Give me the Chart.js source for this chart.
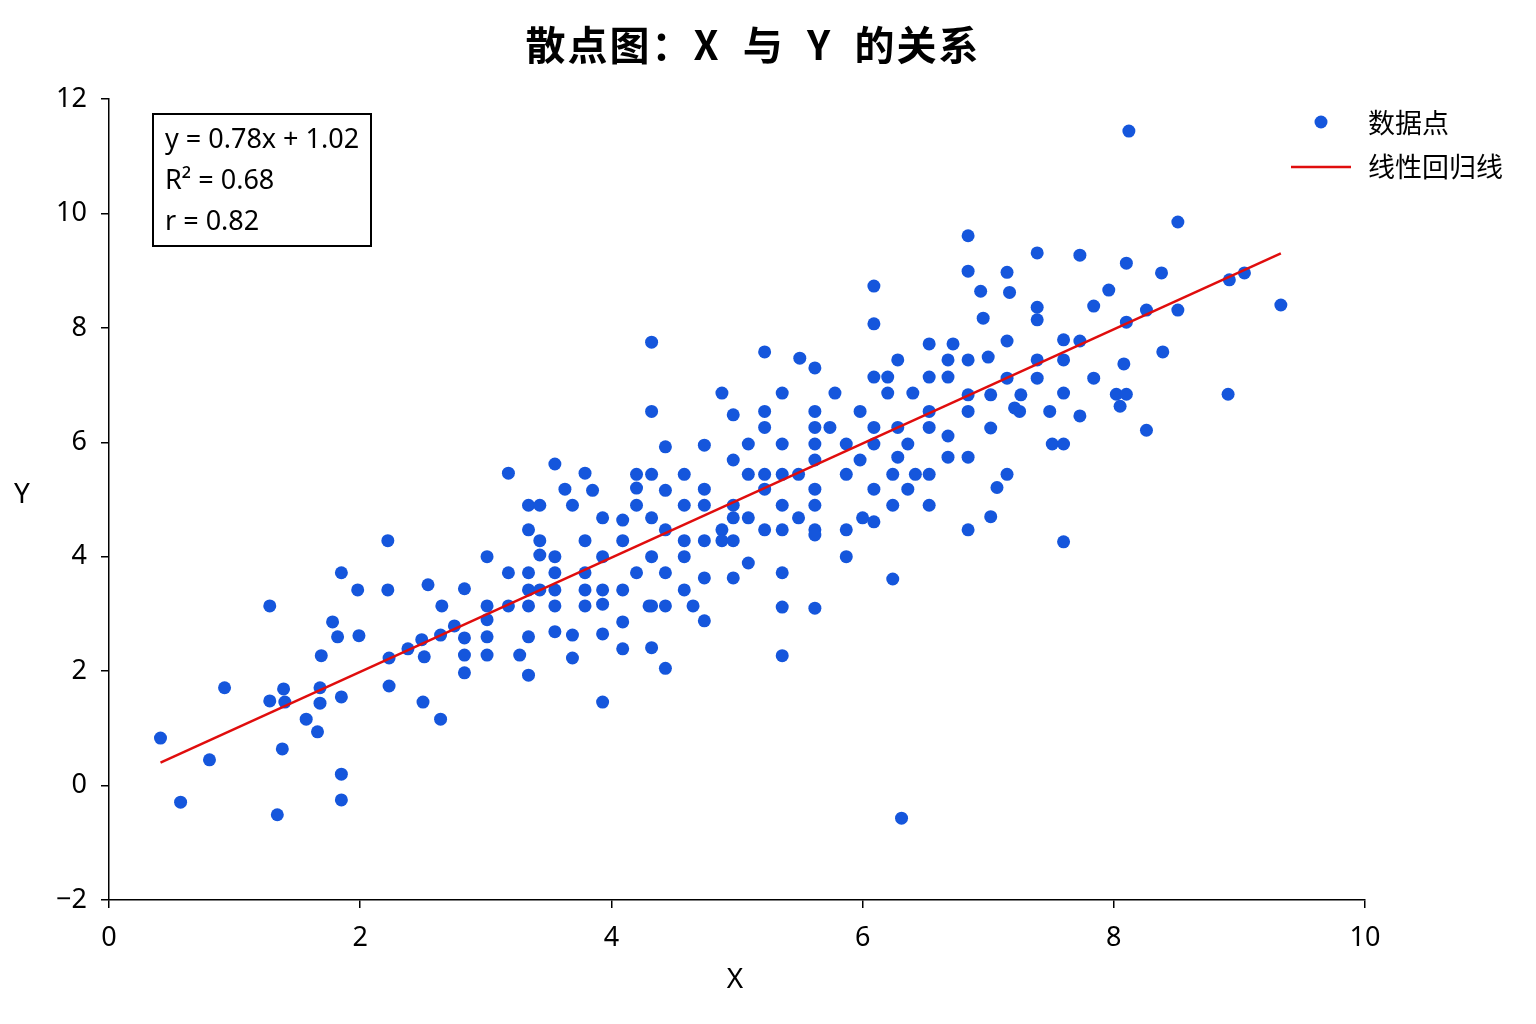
<!DOCTYPE html>
<html lang="zh">

<head>
    <meta charset="UTF-8">
    <title>散点图：X 与 Y 的关系</title>
    <script src="https://cdn.jsdelivr.net/npm/chart.js"></script>
    <style>
        body {
            margin: 0;
            background: #ffffff;
        }

        canvas {
            display: block;
        }
    </style>
</head>

<body>
    <canvas id="scatterChart" width="1536" height="1024"></canvas>

    <script>
        // 数据点
        const xValues = [
            0.41, 0.57, 0.80, 0.92, 1.28, 1.28, 1.39, 1.38, 1.34, 1.40, 1.57, 1.66, 1.68, 1.68, 1.69, 1.78, 1.82, 1.85, 1.85, 1.85,
            1.85, 1.98, 1.99, 2.22, 2.22, 2.23, 2.23, 2.38, 2.49, 2.51, 2.50, 2.54, 2.64, 2.65, 2.64, 2.75, 2.83, 2.83, 2.83, 2.83,
            3.01, 3.01, 3.01, 3.01, 3.01, 3.18, 3.18, 3.18, 3.27, 3.34, 3.34, 3.34, 3.34, 3.34, 3.34, 3.34, 3.43, 3.43, 3.43, 3.43,
            3.55, 3.55, 3.55, 3.55, 3.55, 3.55, 3.63, 3.69, 3.69, 3.69, 3.79, 3.79, 3.79, 3.79, 3.79, 3.85, 3.93, 3.93, 3.93, 3.93,
            3.93, 3.93, 4.09, 4.09, 4.09, 4.09, 4.09, 4.20, 4.20, 4.20, 4.20, 4.30, 4.32, 4.32, 4.32, 4.32, 4.32, 4.32, 4.32, 4.43,
            4.43, 4.43, 4.43, 4.43, 4.43, 4.58, 4.58, 4.58, 4.58, 4.58, 4.65, 4.74, 4.74, 4.74, 4.74, 4.74, 4.74, 4.88, 4.88, 4.88,
            4.97, 4.97, 4.97, 4.97, 4.97, 4.97, 5.09, 5.09, 5.09, 5.09, 5.22, 5.22, 5.22, 5.22, 5.22, 5.22, 5.36, 5.36, 5.36, 5.36,
            5.36, 5.36, 5.36, 5.36, 5.49, 5.49, 5.50, 5.62, 5.62, 5.62, 5.62, 5.62, 5.62, 5.62, 5.62, 5.62, 5.62, 5.74, 5.78, 5.87,
            5.87, 5.87, 5.87, 5.98, 5.98, 6.00, 6.09, 6.09, 6.09, 6.09, 6.09, 6.09, 6.09, 6.20, 6.20, 6.24, 6.24, 6.24, 6.28, 6.28,
            6.28, 6.31, 6.36, 6.36, 6.40, 6.42, 6.53, 6.53, 6.53, 6.53, 6.53, 6.53, 6.68, 6.68, 6.68, 6.68, 6.72, 6.84, 6.84, 6.84,
            6.84, 6.84, 6.84, 6.84, 6.94, 6.96, 7.00, 7.02, 7.02, 7.02, 7.07, 7.15, 7.17, 7.15, 7.15, 7.15, 7.21, 7.25, 7.26, 7.39,
            7.39, 7.39, 7.39, 7.39, 7.49, 7.51, 7.60, 7.60, 7.60, 7.60, 7.60, 7.73, 7.73, 7.73, 7.84, 7.84, 7.96, 8.02, 8.05, 8.08,
            8.10, 8.10, 8.10, 8.12, 8.26, 8.26, 8.38, 8.39, 8.51, 8.51, 8.91, 8.92, 9.04, 9.33
        ];
        const yValues = [
            0.83, -0.29, 0.45, 1.71, 3.14, 1.48, 1.69, 0.64, -0.51, 1.46, 1.16, 0.94, 1.71, 1.44, 2.27, 2.86, 2.60, 3.72, 1.55, 0.20,
            -0.25, 3.42, 2.62, 4.28, 3.42, 1.74, 2.23, 2.39, 2.55, 2.25, 1.46, 3.51, 1.16, 3.14, 2.63, 2.79, 3.44, 2.58, 2.28, 1.97,
            4.00, 3.14, 2.60, 2.28, 2.90, 5.46, 3.72, 3.14, 2.28, 4.90, 4.47, 3.72, 3.42, 3.14, 2.60, 1.93, 4.90, 4.28, 4.03, 3.42,
            5.62, 4.00, 3.72, 3.42, 3.14, 2.69, 5.18, 4.90, 2.63, 2.23, 5.46, 4.28, 3.72, 3.42, 3.14, 5.16, 4.68, 4.00, 3.42, 3.17,
            2.65, 1.46, 4.64, 4.28, 3.42, 2.86, 2.39, 5.44, 5.20, 4.90, 3.72, 3.14, 7.75, 6.54, 5.44, 4.68, 4.00, 3.14, 2.41, 5.92,
            5.16, 4.47, 3.72, 3.14, 2.05, 5.44, 4.90, 4.28, 4.00, 3.42, 3.14, 5.95, 5.18, 4.90, 4.28, 3.63, 2.88, 6.86, 4.47, 4.28,
            6.48, 5.69, 4.90, 4.68, 4.28, 3.63, 5.97, 5.44, 4.68, 3.89, 7.58, 6.54, 6.26, 5.44, 5.18, 4.47, 6.86, 5.97, 5.44, 4.90,
            4.47, 3.72, 3.12, 2.27, 5.44, 4.68, 7.47, 7.30, 6.54, 6.26, 5.97, 5.69, 5.18, 4.90, 4.47, 4.38, 3.10, 6.26, 6.86, 5.97,
            5.44, 4.47, 4.00, 6.54, 5.69, 4.68, 8.73, 8.07, 7.14, 6.26, 5.97, 5.18, 4.61, 7.14, 6.86, 5.44, 4.90, 3.61, 7.44, 6.26,
            5.74, -0.57, 5.97, 5.18, 6.86, 5.44, 7.72, 7.14, 6.54, 6.26, 5.44, 4.90, 7.44, 7.14, 6.11, 5.74, 7.72, 9.61, 8.99, 7.44,
            6.83, 6.54, 5.74, 4.47, 8.64, 8.17, 7.49, 6.83, 6.25, 4.70, 5.21, 8.97, 8.62, 7.77, 7.12, 5.44, 6.60, 6.54, 6.83, 9.31,
            8.36, 8.14, 7.44, 7.12, 6.54, 5.97, 7.79, 7.44, 6.86, 5.97, 4.26, 9.27, 7.77, 6.46, 8.38, 7.12, 8.66, 6.84, 6.63, 7.37,
            9.13, 8.10, 6.84, 11.44, 8.31, 6.21, 8.96, 7.58, 9.85, 8.31, 6.84, 8.84, 8.96, 8.40
        ];

        // 线性回归线 end points, as drawn
        const lineX = [0.41, 9.33];
        const lineY = [0.40, 9.30];

        const xTicks = [0, 2, 4, 6, 8, 10];
        const yTicks = [-2, 0, 2, 4, 6, 8, 10, 12];

        const statsLines = ['y = 0.78x + 1.02', 'R² = 0.68', 'r = 0.82'];
        const legendLabels = ['数据点', '线性回归线'];

        const pointColor = '#1556dc';
        const lineColor = '#e00d0d';
        const fontFamily = '"Noto Sans", "Noto Sans CJK SC", sans-serif';

        // title, axis labels, stats box and legend drawn on top
        const overlay = {
            id: 'overlay',
            afterDraw(chart) {
                const ctx = chart.ctx;
                ctx.save();
                ctx.fillStyle = '#000000';
                ctx.textBaseline = 'middle';

                // title
                ctx.font = 'bold 40px "Noto Sans CJK SC", "Noto Sans", sans-serif';
                ctx.textAlign = 'center';
                ctx.letterSpacing = '2px';
                ctx.fillText('散点图：X  与  Y  的关系', 753, 45);
                ctx.letterSpacing = '0px';

                // axis labels
                ctx.font = '28px ' + fontFamily;
                ctx.fillText('X', 735, 980);
                ctx.fillText('Y', 22, 495);

                // stats box
                ctx.lineWidth = 2;
                ctx.strokeStyle = '#000000';
                ctx.strokeRect(153, 114, 218, 132);
                ctx.textAlign = 'left';
                ctx.font = '27px ' + fontFamily;
                statsLines.forEach((t, i) => ctx.fillText(t, 165, 140 + i * 41));

                // legend
                ctx.fillStyle = pointColor;
                ctx.beginPath();
                ctx.arc(1321, 122, 6.5, 0, Math.PI * 2);
                ctx.fill();
                ctx.strokeStyle = lineColor;
                ctx.lineWidth = 2.5;
                ctx.beginPath();
                ctx.moveTo(1291, 167);
                ctx.lineTo(1351, 167);
                ctx.stroke();
                ctx.fillStyle = '#000000';
                ctx.font = '27px "Noto Sans CJK SC", sans-serif';
                ctx.fillText(legendLabels[0], 1368, 123);
                ctx.fillText(legendLabels[1], 1368, 167);
                ctx.restore();
            }
        };

        const ctx = document.getElementById('scatterChart').getContext('2d');

        new Chart(ctx, {
            type: 'scatter',
            data: {
                datasets: [{
                    label: legendLabels[0],
                    data: xValues.map((x, i) => ({ x: x, y: yValues[i] })),
                    backgroundColor: pointColor,
                    borderWidth: 0,
                    pointRadius: 6.5,
                    order: 2
                }, {
                    type: 'line',
                    label: legendLabels[1],
                    data: lineX.map((x, i) => ({ x: x, y: lineY[i] })),
                    borderColor: lineColor,
                    borderWidth: 2.5,
                    pointRadius: 0,
                    fill: false,
                    order: 1
                }]
            },
            options: {
                responsive: false,
                animation: false,
                layout: {
                    padding: { left: 0, top: 99, right: 171, bottom: 64 }
                },
                plugins: {
                    legend: { display: false },
                    title: { display: false },
                    tooltip: { enabled: false }
                },
                scales: {
                    x: {
                        type: 'linear',
                        min: 0,
                        max: 10,
                        afterFit: scale => { scale.height = 60; },
                        afterBuildTicks: scale => { scale.ticks = xTicks.map(v => ({ value: v })); },
                        ticks: {
                            color: '#000000',
                            font: { family: fontFamily, size: 27 },
                            padding: 14
                        },
                        grid: {
                            drawOnChartArea: false,
                            drawTicks: true,
                            tickLength: 8,
                            color: '#000000',
                            lineWidth: 1.5
                        },
                        border: { color: '#000000', width: 1.5 }
                    },
                    y: {
                        type: 'linear',
                        min: -2,
                        max: 12,
                        afterFit: scale => { scale.width = 109; },
                        afterBuildTicks: scale => { scale.ticks = yTicks.map(v => ({ value: v })); },
                        ticks: {
                            color: '#000000',
                            font: { family: fontFamily, size: 27 },
                            padding: 14,
                            callback: v => String(v).replace('-', '\u2212')
                        },
                        grid: {
                            drawOnChartArea: false,
                            drawTicks: true,
                            tickLength: 8,
                            color: '#000000',
                            lineWidth: 1.5
                        },
                        border: { color: '#000000', width: 1.5 }
                    }
                }
            },
            plugins: [overlay]
        });
    </script>
</body>

</html>
